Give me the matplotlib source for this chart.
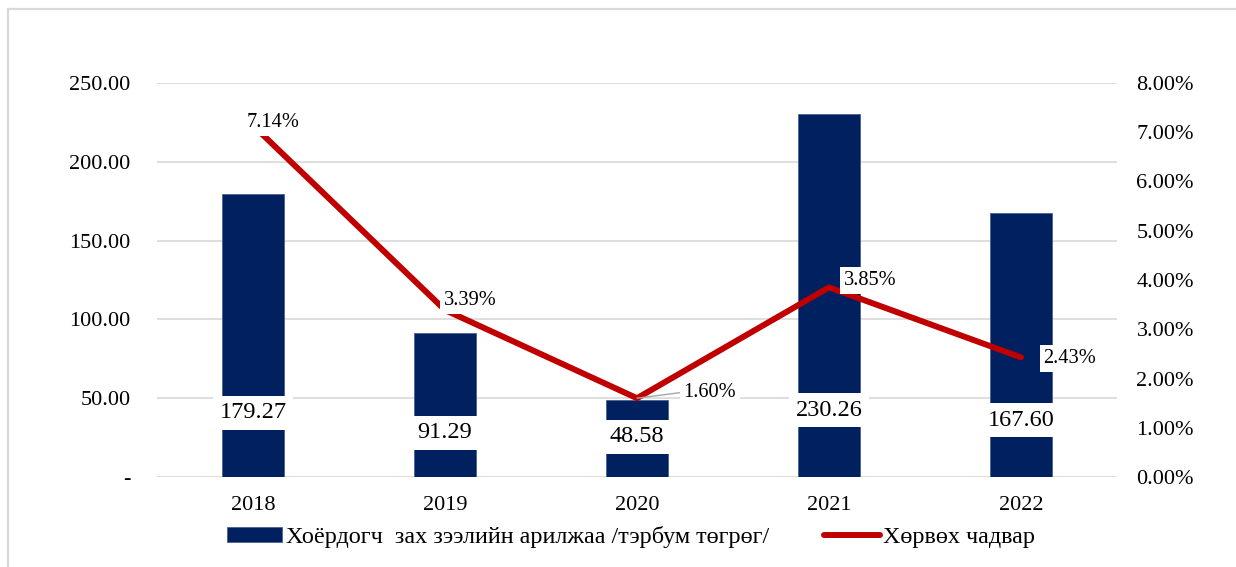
import numpy as np
import matplotlib
matplotlib.use("Agg")
import matplotlib.pyplot as plt
from matplotlib.lines import Line2D
from matplotlib.ticker import FuncFormatter

plt.rcParams['font.family'] = ['Liberation Serif', 'DejaVu Serif']

# Data
years = ['2018', '2019', '2020', '2021', '2022']
trade = [179.27, 91.29, 48.58, 230.26, 167.60]   # тэрбум төгрөг
liquidity = [7.14, 3.39, 1.60, 3.85, 2.43]        # %
bar_name = 'Хоёрдогч  зах зээлийн арилжаа /тэрбум төгрөг/'
line_name = 'Хөрвөх чадвар'

navy = '#002060'
red = '#C00000'
grid = '#d9d9d9'

fig = plt.figure(figsize=(12.36, 5.67), dpi=100)
ax = fig.add_axes([157/1236, 1-477/567, 960/1236, 394/567])
ax2 = ax.twinx()

x = np.arange(len(years))
bars = ax.bar(x, trade, width=0.32, color=navy, edgecolor='#4a6190', linewidth=0.6, zorder=2,
              label=bar_name)
ax.set_xlim(-0.5, len(years) - 0.5)
ax.set_ylim(0, 250)
ax.set_yticks(np.arange(0, 251, 50))
ax.yaxis.set_major_formatter(FuncFormatter(lambda v, p: '-' if v == 0 else f'{v:.2f}'))
ax.yaxis.grid(True, color=grid, linewidth=1.2, zorder=0)
ax.set_axisbelow(True)
ax.set_xticks(x)
ax.set_xticklabels(years)
ax.tick_params(axis='both', length=0, labelsize=16)
ax.tick_params(axis='y', pad=19)
ax.tick_params(axis='x', pad=14)
for s in ax.spines.values():
    s.set_visible(False)
for s in ax2.spines.values():
    s.set_visible(False)

ax2.plot(x, liquidity, color=red, linewidth=4.3, zorder=3, label=line_name,
         solid_capstyle='round')
ax2.set_ylim(0, 8)
ax2.set_yticks(np.arange(0, 8.01, 1))
ax2.yaxis.set_major_formatter(FuncFormatter(lambda v, p: f'{v:.2f}%'))
ax2.tick_params(axis='y', length=0, labelsize=16, pad=14)

# bar value labels (inside base, white box), offsets in pixels from the base
bar_lab_off = [64, 44, 40, 67, 57]
for xi, v, off in zip(x, trade, bar_lab_off):
    ax.annotate(f'{v:.2f}', (xi, 0), xytext=(0, off * 0.72), textcoords='offset points',
                ha='center', va='center', fontsize=17.5, zorder=5,
                bbox=dict(boxstyle='square,pad=0.25', fc='white', ec='none'))

# line value labels, offsets in pixels from the point
line_lab_off = [(20, 3), (25, 10), (73, 6), (41, 7), (49, -1)]
for i, (xi, v, off) in enumerate(zip(x, liquidity, line_lab_off)):
    kw = {}
    if i == 2:
        kw['arrowprops'] = dict(arrowstyle='-', color='#a6a6a6', lw=1,
                                shrinkA=0, shrinkB=0, relpos=(0, 0.5))
    ax2.annotate(f'{v:.2f}%', (xi, v), xytext=(off[0] * 0.72, off[1] * 0.72),
                 textcoords='offset points', ha='center', va='center', fontsize=14.7,
                 zorder=6, bbox=dict(boxstyle='square,pad=0.2', fc='white', ec='none'), **kw)

h1, l1 = ax.get_legend_handles_labels()
h2, l2 = ax2.get_legend_handles_labels()
fig.legend(h1 + h2, l1 + l2, loc='center', bbox_to_anchor=(631/1236, 1-537/567), ncol=2,
           frameon=False, fontsize=17.4, handlelength=2.28, handletextpad=0.15,
           columnspacing=2.3, handleheight=0.54)

# outer chart frame (left and top edges only, the rest is cut off)
fx, fy = 8/1236, 1 - 9/567
fig.add_artist(Line2D([fx, fx], [0, fy], transform=fig.transFigure, color=grid, lw=1.6))
fig.add_artist(Line2D([fx, 1], [fy, fy], transform=fig.transFigure, color=grid, lw=1.6))

fig.savefig('out.png', dpi=100, facecolor='white')
